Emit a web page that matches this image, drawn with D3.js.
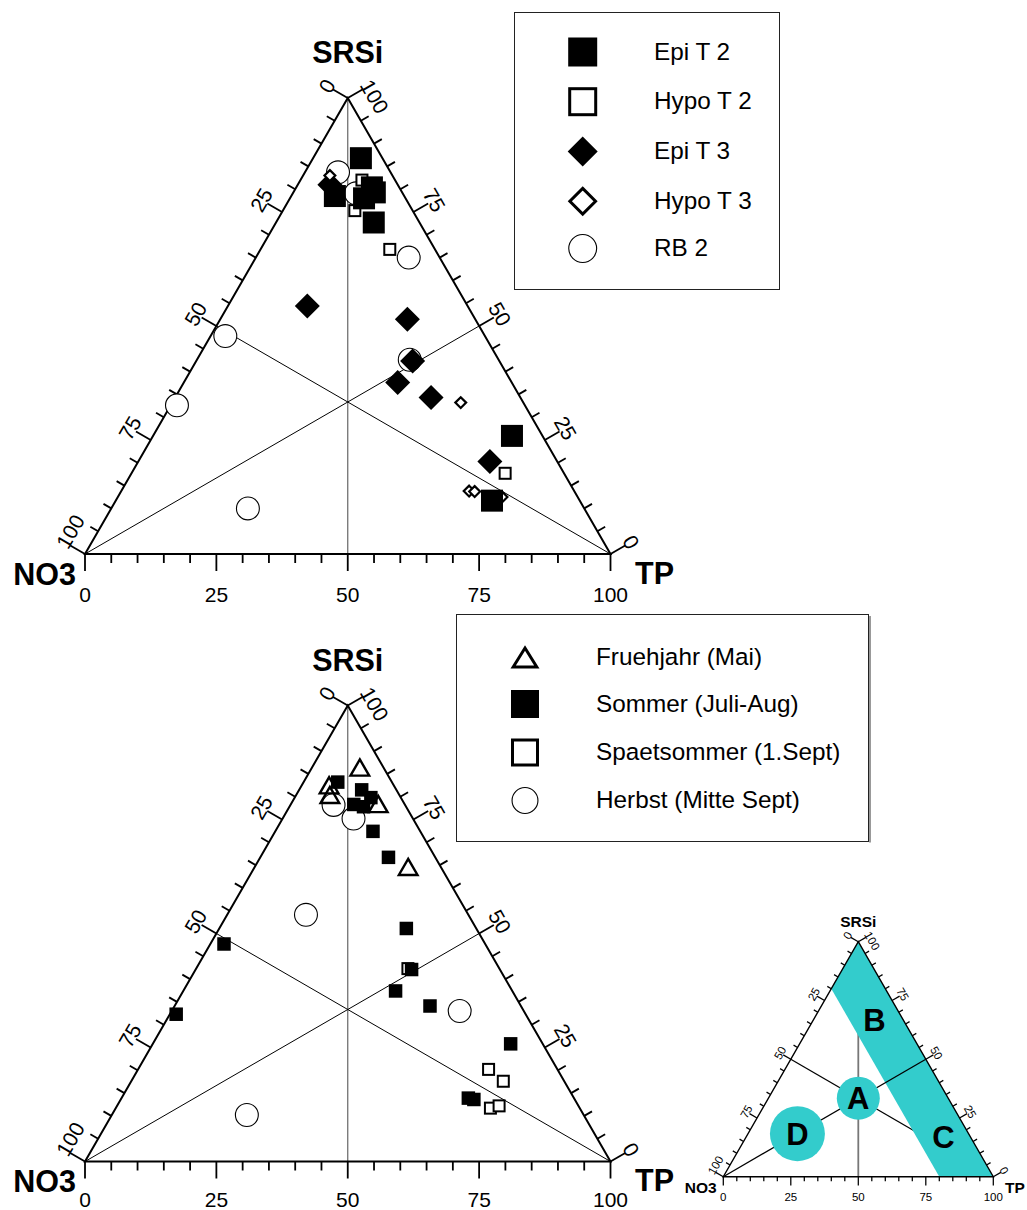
<!DOCTYPE html>
<html>
<head>
<meta charset="utf-8">
<script src="https://cdn.jsdelivr.net/npm/d3@7"></script>
<style>
body { margin: 0; background: #fff; }
text { font-family: "Liberation Sans", Arial, sans-serif; fill: #000; }
</style>
</head>
<body>
<svg id="chart" width="1027" height="1210"></svg>
<script>
// all points are [NO3, TP, SRSi] in %
var epiT2 = [[4.1,9.1,86.8],[13.2,8.3,78.5],[5.2,14.4,80.4],[5.2,15.5,79.3],[7.9,14.1,78.0],[8.7,18.6,72.7],[5.8,68.3,25.9],[16.7,71.6,11.7]];
var hypoT2 = [[6.3,11.7,82.0],[11.0,13.7,75.3],[8.6,24.6,66.8],[11.2,71.1,17.7]];
var epiT3 = [[12.9,6.1,81.0],[30.5,15.1,54.4],[12.9,35.6,51.5],[16.5,41.2,42.3],[21.7,40.7,37.6],[17.0,48.7,34.3],[12.8,66.9,20.3]];
var hypoT3 = [[11.9,5.1,83.0],[11.9,54.9,33.2],[20.0,66.2,13.8],[19.0,67.3,13.7],[14.4,73.1,12.5]];
var rb2 = [[10.0,6.3,83.7],[8.9,12.0,79.1],[5.9,29.1,65.0],[49.4,2.8,47.8],[66.2,1.2,32.6],[64.0,26.0,10.0],[16.9,40.5,42.6]];

var fruehjahr = [[4.5,9.1,86.4],[12.3,5.2,82.5],[13.2,6.4,80.4],[5.0,16.6,78.4],[6.2,29.2,64.6]];
var sommer = [[10.3,6.5,83.2],[6.6,11.9,81.5],[5.7,14.5,79.8],[9.7,12.0,78.3],[8.1,14.1,77.8],[9.0,18.6,72.4],[8.9,24.4,66.7],
  [13.3,35.6,51.1],[16.8,41.1,42.1],[22.2,40.4,37.4],[17.3,48.6,34.1],[6.1,68.1,25.8],[20.1,66.0,13.9],[19.2,67.2,13.6],
  [49.7,2.6,47.7],[66.5,1.2,32.3]];
var spaetsommer = [[17.4,40.3,42.3],[13.1,66.7,20.2],[11.6,70.8,17.6],[17.0,71.3,11.7],[11.1,72.7,12.2]];
var herbst = [[13.6,8.2,78.2],[11.3,13.5,75.2],[30.9,15.0,54.1],[12.2,54.8,33.0],[64.1,25.7,10.2]];

// scheme diagram
var zoneBand = [[0,0,100],[20,0,80],[20,80,0],[0,100,0]];
var zoneNames = ["A","B","C","D"];
var zonePos = [[33.3,33.3,33.4],[10.7,22.6,66.7],[10,73,17],[63.4,18.3,18.3]];

var topNames = ["Epi T 2","Hypo T 2","Epi T 3","Hypo T 3","RB 2"];
var botNames = ["Fruehjahr (Mai)","Sommer (Juli-Aug)","Spaetsommer (1.Sept)","Herbst (Mitte Sept)"];
var axisNames = ["NO3","TP","SRSi"];
var tickLabels = [0,25,50,75,100];
var tickSteps = d3.range(0, 101, 5);

var svg = d3.select("#chart");
var line = d3.line();

function makeTernary(x0, x1, yBase, yTop) {
  var xs = d3.scaleLinear().domain([0, 100]).range([x0, x1]);
  var ys = d3.scaleLinear().domain([0, 100]).range([yBase, yTop]);
  return function(d) { return [xs(d[1] + d[2] / 2), ys(d[2])]; };
}

var T1 = makeTernary(85, 610.5, 554, 98);
var T2 = makeTernary(85, 610.5, 1161.5, 705.5);
var T3 = makeTernary(723.3, 993.3, 1176.7, 941.7);

var sides = [
  { at: function(v){ return [100 - v, v, 0]; }, n: [0, 1], rot: 0, sh: [0, 0] },
  { at: function(v){ return [v, 0, 100 - v]; }, n: [-0.866, -0.5], rot: -60, sh: [0.5, -0.866] },
  { at: function(v){ return [0, 100 - v, v]; }, n: [0.866, -0.5], rot: 60, sh: [0.5, 0.866] }
];

function seg(g, P, a, b, color, w) {
  g.append("path").attr("d", line([P(a), P(b)]))
    .attr("fill", "none").attr("stroke", color).attr("stroke-width", w);
}

function drawAxes(g, P, k, fs, bottomDist) {
  g.append("path")
    .attr("d", line([P([100,0,0]), P([0,100,0]), P([0,0,100])]) + "Z")
    .attr("fill", "none").attr("stroke", "#000").attr("stroke-width", 2 * Math.max(k, 0.7))
    .attr("stroke-linejoin", "miter");
  sides.forEach(function(s, i) {
    tickSteps.forEach(function(v) {
      var p = P(s.at(v));
      var len = (v % 25 == 0 ? 17 : 9) * k;
      g.append("line")
        .attr("x1", p[0]).attr("y1", p[1])
        .attr("x2", p[0] + s.n[0] * len).attr("y2", p[1] + s.n[1] * len)
        .attr("stroke", "#000").attr("stroke-width", 1.8 * Math.max(k, 0.7));
    });
    tickLabels.forEach(function(v) {
      var p = P(s.at(v));
      var dist = (i == 0 ? bottomDist : 24) * k;
      var shift = (i > 0 && v == 100) ? 12 * k : 0;
      var x = p[0] + s.n[0] * dist + s.sh[0] * shift;
      var y = p[1] + s.n[1] * dist + s.sh[1] * shift;
      g.append("text")
        .attr("transform", "translate(" + x + "," + y + ") rotate(" + s.rot + ")")
        .attr("text-anchor", "middle")
        .attr("dominant-baseline", "central")
        .style("font-size", fs + "px")
        .text(v);
    });
  });
}

function drawTitles(g, P, fs, off) {
  var N = P([100,0,0]), R = P([0,100,0]), A = P([0,0,100]);
  g.append("text").attr("x", N[0] + off[0][0]).attr("y", N[1] + off[0][1])
    .attr("text-anchor", "end").style("font-size", fs + "px").style("font-weight", "bold").text(axisNames[0]);
  g.append("text").attr("x", R[0] + off[1][0]).attr("y", R[1] + off[1][1])
    .attr("text-anchor", "start").style("font-size", fs + "px").style("font-weight", "bold").text(axisNames[1]);
  g.append("text").attr("x", A[0] + off[2][0]).attr("y", A[1] + off[2][1])
    .attr("text-anchor", "middle").style("font-size", fs + "px").style("font-weight", "bold").text(axisNames[2]);
}

function drawMedians(g, P) {
  seg(g, P, [0,0,100], [50,50,0], "#666", 1.2);
  seg(g, P, [100,0,0], [0,50,50], "#000", 1);
  seg(g, P, [0,100,0], [50,0,50], "#000", 1);
}

function marker(g, shape, size, sw, x, y, ratio) {
  var h = size / 2;
  var m = g.append("g").attr("transform", "translate(" + x + "," + y + ")");
  if (shape == "fsq") {
    m.append("rect").attr("x", -h).attr("y", -h).attr("width", size).attr("height", size).attr("fill", "#000");
  } else if (shape == "osq") {
    var a = h - sw / 2;
    m.append("rect").attr("x", -a).attr("y", -a).attr("width", 2 * a).attr("height", 2 * a)
      .attr("fill", "#fff").attr("stroke", "#000").attr("stroke-width", sw);
  } else if (shape == "fdia") {
    m.append("path").attr("d", "M0," + (-h) + "L" + h + ",0L0," + h + "L" + (-h) + ",0Z").attr("fill", "#000");
  } else if (shape == "odia") {
    var b = h - sw * 0.72;
    m.append("path").attr("d", "M0," + (-b) + "L" + b + ",0L0," + b + "L" + (-b) + ",0Z")
      .attr("fill", "#fff").attr("stroke", "#000").attr("stroke-width", sw).attr("stroke-linejoin", "miter");
  } else if (shape == "circ") {
    m.append("circle").attr("r", h - sw / 2).attr("fill", "#fff").attr("stroke", "#000").attr("stroke-width", sw);
  } else if (shape == "tri") {
    var w = h - sw * 0.9, th = size * (ratio || 0.87) / 2 - sw * 0.8;
    m.append("path").attr("d", "M0," + (-th) + "L" + w + "," + th + "L" + (-w) + "," + th + "Z")
      .attr("fill", "none").attr("stroke", "#000").attr("stroke-width", sw).attr("stroke-linejoin", "miter");
  }
}

function plotSeries(g, P, data, shape, size, sw) {
  data.forEach(function(d) {
    var p = P(d);
    marker(g, shape, size, sw, p[0], p[1]);
  });
}

function legend(g, x, y, w, h, names, specs, symX, textX, rows, fs) {
  g.append("rect").attr("x", x).attr("y", y).attr("width", w).attr("height", h)
    .attr("fill", "#fff").attr("stroke", "#222").attr("stroke-width", 1);
  names.forEach(function(nm, i) {
    var sp = specs[i];
    marker(g, sp[0], sp[1], sp[2], symX, rows[i], sp[3]);
    g.append("text").attr("x", textX).attr("y", rows[i] - 1 + 0.358 * fs)
      .style("font-size", fs + "px").text(nm);
  });
}

// ---------- top chart ----------
var g1 = svg.append("g");
drawMedians(g1, T1);
drawAxes(g1, T1, 1, 21, 40);
drawTitles(g1, T1, 30.5, [[-9, 31], [24.5, 29.5], [0, -35]]);
plotSeries(g1, T1, rb2, "circ", 24, 1.1);
plotSeries(g1, T1, hypoT2, "osq", 13, 2);
plotSeries(g1, T1, epiT3, "fdia", 25, 0);
plotSeries(g1, T1, hypoT3, "odia", 14, 2.2);
plotSeries(g1, T1, epiT2, "fsq", 22, 0);

legend(g1, 514.5, 12.5, 265, 277, topNames,
  [["fsq", 29, 0], ["osq", 29, 3], ["fdia", 30, 0], ["odia", 30, 3], ["circ", 29, 1.1]],
  582.7, 654, [52, 101.7, 151.5, 201.2, 248.5], 24.3);

// ---------- bottom chart ----------
var g2 = svg.append("g");
drawMedians(g2, T2);
drawAxes(g2, T2, 1, 21, 37.5);
drawTitles(g2, T2, 30.5, [[-9, 30.5], [24.5, 29], [0, -35]]);
plotSeries(g2, T2, herbst, "circ", 24, 1.1);
plotSeries(g2, T2, fruehjahr, "tri", 23, 2.4);
plotSeries(g2, T2, spaetsommer, "osq", 13, 2);
plotSeries(g2, T2, sommer, "fsq", 13.5, 0);

legend(g2, 456.5, 614.5, 412, 227, botNames,
  [["tri", 29, 3, 0.82], ["fsq", 28, 0], ["osq", 28, 3], ["circ", 27, 1.1]],
  525, 596, [657.5, 704, 752.5, 800.5], 24.3);
g2.append("line").attr("x1", 870).attr("y1", 616).attr("x2", 870).attr("y2", 842.5)
  .attr("stroke", "#999").attr("stroke-width", 2);

// ---------- scheme diagram ----------
var g3 = svg.append("g");
var k3 = 270 / 525.5;
seg(g3, T3, [0,0,100], [50,50,0], "#777", 1.8);
seg(g3, T3, [0,100,0], [50,0,50], "#000", 1.3);
g3.append("path").attr("d", line(zoneBand.map(T3)) + "Z").attr("fill", "#33cccc");
seg(g3, T3, [100,0,0], [0,50,50], "#000", 1.3);
drawAxes(g3, T3, k3, 11.5, 39);
drawTitles(g3, T3, 15.5, [[-6.6, 16.3], [11.7, 16.3], [0, -15.2]]);
[0, 3].forEach(function(i) {
  var p = T3(zonePos[i]);
  g3.append("circle").attr("cx", p[0]).attr("cy", p[1]).attr("r", i == 0 ? 21.5 : 27.5).attr("fill", "#33cccc");
});
zoneNames.forEach(function(nm, i) {
  var p = T3(zonePos[i]);
  g3.append("text").attr("x", p[0]).attr("y", p[1] + 0.358 * 31)
    .attr("text-anchor", "middle").style("font-size", "31px").style("font-weight", "bold").text(nm);
});
</script>
</body>
</html>
